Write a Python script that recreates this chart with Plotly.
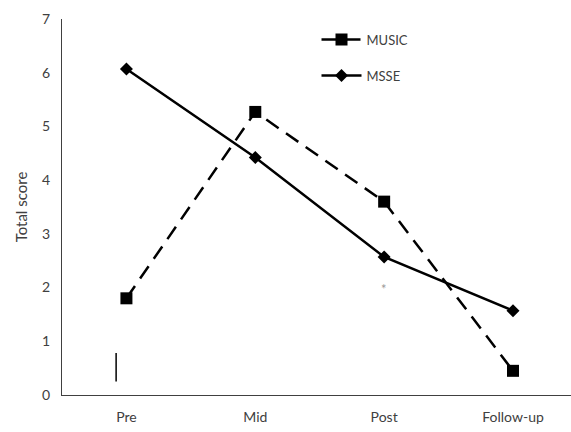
import plotly.graph_objects as go

categories = ["Pre", "Mid", "Post", "Follow-up"]
music = [1.8, 5.27, 3.6, 0.45]
msse = [6.07, 4.42, 2.57, 1.57]

fig = go.Figure()
fig.add_trace(go.Scatter(
    x=categories, y=music, name="MUSIC", mode="lines+markers", legendgroup="a",
    line=dict(color="black", width=2.5, dash="15px,9px"),
    marker=dict(symbol="square", size=12, color="black"),
))
fig.add_trace(go.Scatter(
    x=categories, y=msse, name="MSSE", mode="lines+markers", legendgroup="b",
    line=dict(color="black", width=2.5),
    marker=dict(symbol="diamond", size=10, color="black"),
))

# stray marks in the original figure
fig.add_shape(type="line", xref="x", yref="y", x0=-0.08, x1=-0.08, y0=0.25, y1=0.78,
              line=dict(color="black", width=1.5))
fig.add_annotation(x=2, y=1.98, xref="x", yref="y", text="*", showarrow=False,
                   font=dict(size=13, color="#999999"))

fig.update_layout(
    width=571, height=432,
    margin=dict(l=62, r=0, t=19, b=37),
    paper_bgcolor="white", plot_bgcolor="white",
    font=dict(family="Lato", size=14, color="#404040"),
    showlegend=True,
    legend=dict(x=0.5, y=0.985, xanchor="left", yanchor="top", xref="paper",
                bgcolor="rgba(0,0,0,0)", tracegroupgap=16, itemwidth=40,
                font=dict(size=13, color="#404040")),
    xaxis=dict(type="category", range=[-0.5, 3.45], showline=True, linecolor="#404040",
               linewidth=1, showgrid=False, zeroline=False, ticks="",
               tickfont=dict(size=14), ticklabelstandoff=9),
    yaxis=dict(range=[0, 7], dtick=1, showline=True, linecolor="#404040", linewidth=1,
               showgrid=False, zeroline=False, ticks="", tickfont=dict(size=14),
               ticklabelstandoff=8,
               title=dict(text="Total score", font=dict(size=15), standoff=10)),
)

fig.write_html("out.html")
